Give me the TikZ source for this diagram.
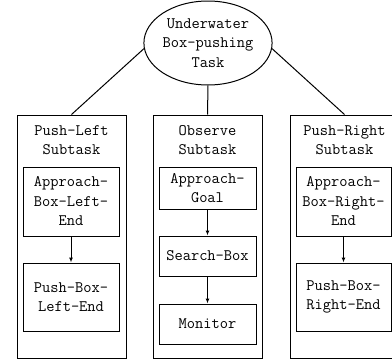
\documentclass[tikz,border=0pt]{standalone}
\usetikzlibrary{positioning}
\usetikzlibrary{shapes.geometric}
\usetikzlibrary{arrows.meta}
\tikzset{
    task/.style = {ellipse,draw,inner sep=0pt,minimum width=110pt,minimum height=84pt,align=center},
    subtask/.style = {rectangle,draw,inner sep=0pt,minimum width=109pt,minimum height=243pt},
    title/.style = {align=center,inner sep=0pt},
    behav/.style = {rectangle,draw,inner sep=0pt,align=center},
    flow/.style = {-{Latex[length=5pt,width=4pt]}}}

\begin{document}
\begin{tikzpicture}[x=1pt,y=-1pt,line width=1pt,
        font=\ttfamily\fontsize{16}{19.5}\selectfont]
        \useasboundingbox (0,0) rectangle (392,362);
        \node[task] (T) at (208,43) {Underwater\\Box-pushing\\Task};
        \node[subtask] (L) at (71.5,236.5) {};
        \node[subtask] (O) at (207.5,236.5) {};
        \node[subtask] (R) at (344.5,236.5) {};
        \node[title] (Lt) at (71.5,140) {Push-Left\\Subtask};
        \node[title] (Ot) at (207.5,140) {Observe\\Subtask};
        \node[title] (Rt) at (344.5,140) {Push-Right\\Subtask};
        \node[behav,minimum width=96pt,minimum height=69pt] (L1) at (71,201.5) {Approach-\\Box-Left-\\End};
        \node[behav,minimum width=96pt,minimum height=68pt] (L2) at (71,297) {Push-Box-\\Left-End};
        \node[behav,minimum width=97pt,minimum height=42pt] (O1) at (207.5,188) {Approach-\\Goal};
        \node[behav,minimum width=97pt,minimum height=40pt] (O2) at (207.5,256) {Search-Box};
        \node[behav,minimum width=97pt,minimum height=40pt] (O3) at (207.5,324) {Monitor};
        \node[behav,minimum width=95pt,minimum height=69pt] (R1) at (343.5,201.5) {Approach-\\Box-Right-\\End};
        \node[behav,minimum width=95pt,minimum height=68pt] (R2) at (343.5,297) {Push-Box-\\Right-End};
        \draw (T.185) -- (L.north) (T.south) -- (O.north) (T.-5) -- (R.north);
        \draw[flow] (L1) -- (L2);
        \draw[flow] (O1) -- (O2);
        \draw[flow] (O2) -- (O3);
        \draw[flow] (R1) -- (R2);
\end{tikzpicture}
\end{document}
